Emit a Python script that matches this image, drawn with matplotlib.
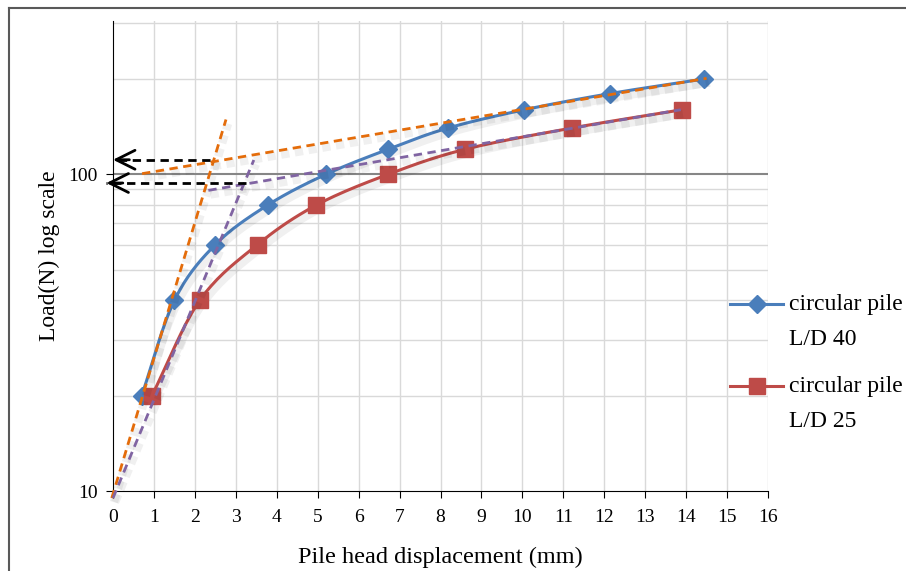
import numpy as np
import matplotlib
matplotlib.use("Agg")
import matplotlib.pyplot as plt
import matplotlib.patheffects as pe
from matplotlib.lines import Line2D

plt.rcParams['font.family'] = ['Liberation Serif', 'DejaVu Serif']

# data
disp_40 = [0.7, 1.5, 2.5, 3.78, 5.2, 6.72, 8.18, 10.05, 12.15, 14.43]
load_40 = [20, 40, 60, 80, 100, 120, 140, 160, 180, 200]
disp_25 = [0.95, 2.12, 3.53, 4.97, 6.72, 8.6, 11.2, 13.9]
load_25 = [20, 40, 60, 80, 100, 120, 140, 160]

# tangent construction lines (start/end points)
tan_orange_steep_x = [-0.03, 2.76]
tan_orange_steep_y = [9.5, 149]
tan_orange_flat_x = [0.71, 14.5]
tan_orange_flat_y = [100.5, 201]
tan_purple_steep_x = [0.0, 3.44]
tan_purple_steep_y = [9.5, 111]
tan_purple_flat_x = [2.33, 13.87]
tan_purple_flat_y = [89, 160]

# read-off arrows (from intersection back to the load axis)
arrow_upper_x = [2.37, 0.0]
arrow_upper_y = [111.2, 111.2]
arrow_lower_x = [3.25, -0.16]
arrow_lower_y = [93.9, 93.9]

x_ticks = list(range(0, 17))
y_minor = [20, 30, 40, 50, 60, 70, 80, 90, 200, 300]
series_names = ['circular pile\nL/D 40', 'circular pile\nL/D 25']


def smooth(xs, ys, n=20):
    # Catmull-Rom through the points in (x, log y) space, like Excel's smoothed line
    x = np.asarray(xs, float)
    y = np.log10(np.asarray(ys, float))
    px = np.concatenate([[2 * x[0] - x[1]], x, [2 * x[-1] - x[-2]]])
    py = np.concatenate([[2 * y[0] - y[1]], y, [2 * y[-1] - y[-2]]])
    ox, oy = [], []
    t = np.linspace(0, 1, n)
    for i in range(1, len(px) - 2):
        for p, o in ((px, ox), (py, oy)):
            p0, p1, p2, p3 = p[i - 1], p[i], p[i + 1], p[i + 2]
            o.extend(0.5 * (2 * p1 + (-p0 + p2) * t + (2 * p0 - 5 * p1 + 4 * p2 - p3) * t ** 2
                            + (-p0 + 3 * p1 - 3 * p2 + p3) * t ** 3))
    return np.array(ox), 10 ** np.array(oy)


fig = plt.figure(figsize=(9.06, 5.71), dpi=100)
ax = fig.add_axes([113 / 906, 1 - 491 / 571, (768 - 113) / 906, (491 - 21) / 571])

ax.set_yscale('log')
ax.set_xlim(0, 16)
ax.set_ylim(10, 305)

# grid
for xv in x_ticks[1:]:
    ax.axvline(xv, color='#d9d9d9', lw=1, zorder=0)
for yv in y_minor:
    ax.axhline(yv, color='#d9d9d9', lw=1, zorder=0)
ax.axhline(100, color='#868686', lw=1.5, zorder=0.5)

shadow = [pe.SimpleLineShadow(offset=(1.5, -3), shadow_color='#000000', alpha=0.06, linewidth=6), pe.Normal()]

# series
colors = ['#4a7ebb', '#be4b48']
sx, sy = smooth(disp_40, load_40)
ax.plot(sx, sy, color=colors[0], lw=2.2, zorder=3, path_effects=shadow)
ax.plot(disp_40, load_40, ls='none', marker='D', ms=9.5, color=colors[0], zorder=4)
sx, sy = smooth(disp_25, load_25)
ax.plot(sx, sy, color=colors[1], lw=2.2, zorder=3, path_effects=shadow)
ax.plot(disp_25, load_25, ls='none', marker='s', ms=11, color=colors[1], zorder=4)

# tangents
dash = dict(lw=2, ls=(0, (3, 2)), zorder=5, path_effects=shadow, clip_on=False)
ax.plot(tan_orange_steep_x, tan_orange_steep_y, color='#e46c0a', **dash)
ax.plot(tan_orange_flat_x, tan_orange_flat_y, color='#e46c0a', **dash)
ax.plot(tan_purple_steep_x, tan_purple_steep_y, color='#8064a2', **dash)
ax.plot(tan_purple_flat_x, tan_purple_flat_y, color='#8064a2', **dash)

# arrows
for axs, ays in ((arrow_upper_x, arrow_upper_y), (arrow_lower_x, arrow_lower_y)):
    ax.plot(axs, ays, color='black', lw=2, ls=(0, (3, 2)), zorder=6, clip_on=False)
    ax.annotate('', xy=(axs[1], ays[1]), xytext=(axs[1] + 0.4, ays[1]),
                arrowprops=dict(arrowstyle='->', lw=2, color='black', mutation_scale=34,
                                shrinkA=0, shrinkB=0),
                annotation_clip=False, zorder=6)

# axes styling
for s in ('top', 'right'):
    ax.spines[s].set_visible(False)
ax.spines['left'].set_color('black')
ax.spines['bottom'].set_color('black')
ax.set_xticks(x_ticks)
ax.set_yticks([10, 100])
ax.set_yticklabels(['10', '100'])
ax.yaxis.set_minor_locator(matplotlib.ticker.NullLocator())
ax.tick_params(axis='both', labelsize=14, length=5, direction='out', color='black')
ax.tick_params(axis='x', pad=8)
ax.tick_params(axis='y', pad=6)
ax.set_xlabel('Pile head displacement (mm)', fontsize=17.5, labelpad=15)
ax.set_ylabel('Load(N) log scale', fontsize=17, labelpad=6)

# legend (drawn by hand so the key sits on the first text line)
leg_rows = [304, 386]
leg_markers = [('D', 9.5), ('s', 11)]
for name, row, col, (mk, ms) in zip(series_names, leg_rows, colors, leg_markers):
    yf = 1 - row / 571
    fig.add_artist(Line2D([730 / 906, 783 / 906], [yf, yf], color=col, lw=2.2))
    fig.add_artist(Line2D([756.5 / 906], [yf], color=col, marker=mk, ms=ms, ls='none'))
    fig.text(789 / 906, yf + 10 / 571, name, fontsize=17, va='top', ha='left', linespacing=1.85)

# chart border
fig.add_artist(Line2D([9 / 906, 9 / 906], [0, 1 - 8 / 571], color='#595959', lw=1.5))
fig.add_artist(Line2D([9 / 906, 1], [1 - 8 / 571, 1 - 8 / 571], color='#595959', lw=1.5))

fig.savefig('out.png', dpi=100)
